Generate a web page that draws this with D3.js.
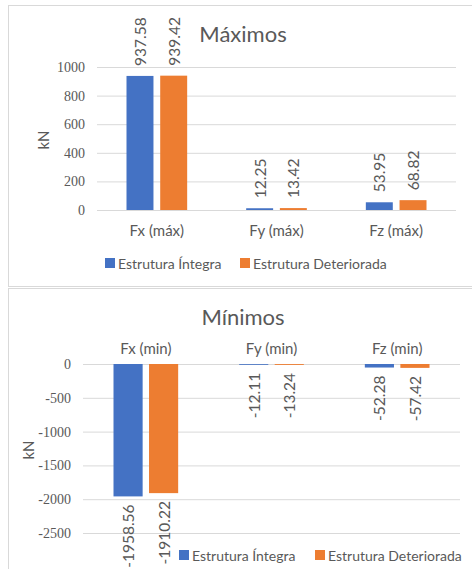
<!DOCTYPE html>
<html>
<head>
<meta charset="utf-8">
<script src="https://cdn.jsdelivr.net/npm/d3@7"></script>
<style>
  html, body { margin: 0; padding: 0; background: #ffffff; }
  svg { display: block; }
  text { font-family: Lato, "Open Sans", sans-serif; fill: #595959; }
</style>
</head>
<body>
<script>
// Series names and colours
const seriesNames = ["Estrutura Íntegra", "Estrutura Deteriorada"];
const seriesColors = ["#4472C4", "#ED7D31"];

// Maximum forces
const maxCategories = ["Fx (máx)", "Fy (máx)", "Fz (máx)"];
const maxIntegra = [937.58, 12.25, 53.95];
const maxDeteriorada = [939.42, 13.42, 68.82];
const maxTicks = [0, 200, 400, 600, 800, 1000];

// Minimum forces
const minCategories = ["Fx (min)", "Fy (min)", "Fz (min)"];
const minIntegra = [-1958.56, -12.11, -52.28];
const minDeteriorada = [-1910.22, -13.24, -57.42];
const minTicks = [0, -500, -1000, -1500, -2000, -2500];

const W = 472, H = 569;
const svg = d3.select("body").append("svg").attr("width", W).attr("height", H);
svg.append("rect").attr("width", W).attr("height", H).attr("fill", "#ffffff");

// panel frames
svg.append("rect").attr("x", 8.5).attr("y", 5.5).attr("width", 470).attr("height", 281)
  .attr("fill", "none").attr("stroke", "#d9d9d9");
svg.append("rect").attr("x", 8.5).attr("y", 288.5).attr("width", 470).attr("height", 290)
  .attr("fill", "none").attr("stroke", "#d9d9d9");

const fmtTick = d => String(d);
const fmtVal = d => d.toFixed(2);

function drawChart(cfg) {
  const g = svg.append("g");
  const y = d3.scaleLinear().domain(cfg.yDomain).range(cfg.yRange);
  const x0 = d3.scaleBand().domain(cfg.categories).range(cfg.xRange).padding(0);
  const x1 = d3.scaleBand().domain(seriesNames)
    .range([cfg.outer, x0.bandwidth() - cfg.outer]).paddingInner(cfg.inner).paddingOuter(0);

  // gridlines + tick labels
  const axis = d3.axisLeft(y).tickValues(cfg.ticks).tickFormat(fmtTick)
    .tickSize(-(cfg.xRange[1] - cfg.xRange[0])).tickPadding(12);
  const ax = g.append("g").attr("transform", `translate(${cfg.xRange[0]},0)`).call(axis);
  ax.select(".domain").remove();
  ax.selectAll(".tick line").attr("stroke", "#d9d9d9").attr("stroke-width", 1);
  ax.selectAll(".tick text")
    .style("font-family", "'Liberation Serif', 'DejaVu Serif', serif")
    .style("font-size", "14px")
    .style("fill", "#595959");

  // axis title
  g.append("text").attr("transform", `translate(${cfg.kN[0]},${cfg.kN[1]}) rotate(-90)`)
    .attr("text-anchor", "middle").attr("dominant-baseline", "central")
    .style("font-size", "15px").text("kN");

  // chart title
  g.append("text").attr("x", cfg.title[0]).attr("y", cfg.title[1])
    .attr("text-anchor", "middle").style("font-size", "22px").text(cfg.titleText);

  // bars
  const rows = cfg.categories.map((c, i) => ({ cat: c, vals: [cfg.a[i], cfg.b[i]] }));
  const grp = g.selectAll(".grp").data(rows).join("g")
    .attr("transform", d => `translate(${x0(d.cat)},0)`);
  grp.selectAll("rect").data(d => d.vals.map((v, j) => ({ v, s: seriesNames[j], j })))
    .join("rect")
    .attr("x", d => x1(d.s))
    .attr("width", x1.bandwidth())
    .attr("y", d => Math.min(y(d.v), y(0)))
    .attr("height", d => Math.abs(y(d.v) - y(0)))
    .attr("fill", d => seriesColors[d.j]);

  // value labels
  grp.selectAll(".val").data(d => d.vals.map((v, j) => ({ v, s: seriesNames[j], j })))
    .join("text")
    .attr("transform", d => {
      const cx = x1(d.s) + x1.bandwidth() / 2;
      const cy = d.v >= 0 ? y(d.v) - cfg.labelGap : y(d.v) + cfg.labelGap;
      return `translate(${cx},${cy}) rotate(-90)`;
    })
    .attr("text-anchor", d => d.v >= 0 ? "start" : "end")
    .attr("dominant-baseline", "central")
    .style("font-size", "15.5px")
    .text(d => fmtVal(d.v));

  // category labels
  g.selectAll(".cat").data(cfg.categories).join("text")
    .attr("x", d => x0(d) + x0.bandwidth() / 2)
    .attr("y", cfg.catY)
    .attr("text-anchor", "middle").attr("dominant-baseline", "central")
    .style("font-size", "15px").text(d => d);

  // legend
  seriesNames.forEach((s, j) => {
    const lx = cfg.legendX[j];
    g.append("rect").attr("x", lx).attr("y", cfg.legendY - 5).attr("width", 10).attr("height", 10)
      .attr("fill", seriesColors[j]);
    g.append("text").attr("x", lx + 13).attr("y", cfg.legendY)
      .attr("dominant-baseline", "central").style("font-size", "14px").text(s);
  });
}

drawChart({
  titleText: "Máximos", title: [243, 42],
  categories: maxCategories, a: maxIntegra, b: maxDeteriorada,
  yDomain: [0, 1000], yRange: [210, 67], ticks: maxTicks,
  xRange: [97, 456], outer: 29.5, inner: 0.2,
  labelGap: 10, catY: 230, kN: [43, 140],
  legendX: [105, 240], legendY: 263
});

drawChart({
  titleText: "Mínimos", title: [243, 325],
  categories: minCategories, a: minIntegra, b: minDeteriorada,
  yDomain: [-2500, 0], yRange: [533, 364], ticks: minTicks,
  xRange: [83, 460], outer: 30.5, inner: 0.18,
  labelGap: 8, catY: 348, kN: [28, 450],
  legendX: [179, 315], legendY: 555
});
</script>
</body>
</html>
